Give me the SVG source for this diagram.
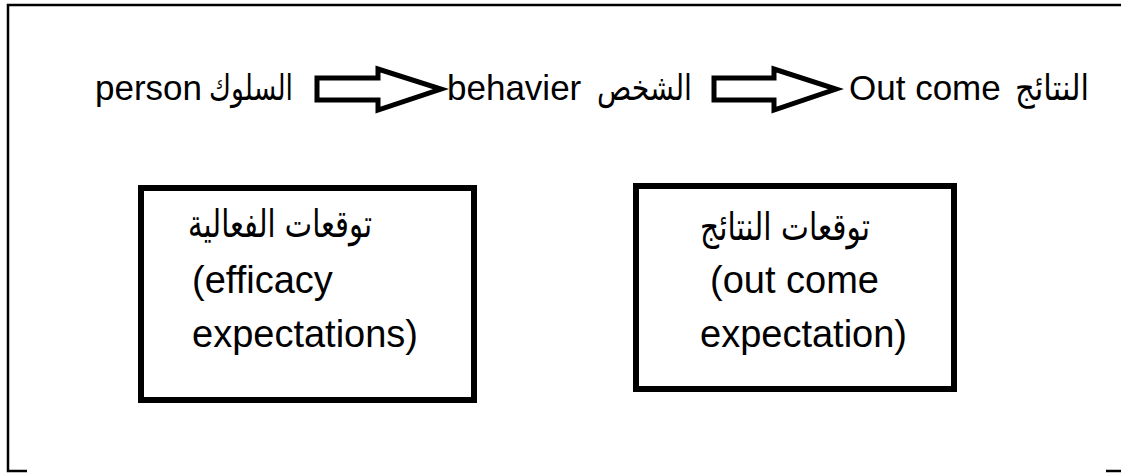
<svg xmlns="http://www.w3.org/2000/svg" width="1121" height="473" viewBox="0 0 1121 473">
  <style>
    .frame { fill: none; stroke: #000; stroke-width: 2.5; }
    .box { fill: #fff; stroke: #000; stroke-width: 6; }
    .arrow { fill: #fff; stroke: #000; stroke-width: 5; stroke-linejoin: miter; }
    .t { font-family: "Liberation Sans", Arial, sans-serif; fill: #000; }
    .ar { font-family: "DejaVu Sans", "Noto Sans", sans-serif; fill: #000; }
    .top { font-size: 35px; }
    .inbox { font-size: 38px; }
  </style>
  <rect width="1121" height="473" fill="#fff"/>
  <g id="frame">
    <path class="frame" d="M1121,5 H8 V471 H27"/>
    <path class="frame" d="M1106,471 H1121"/>
  </g>
  <g id="header">
    <text class="t top" x="95" y="100">person</text>
    <text class="ar top" x="293" y="100" text-anchor="end" font-size="30" textLength="84" lengthAdjust="spacingAndGlyphs">السلوك</text>
    <text class="t top" x="447" y="100">behavier</text>
    <text class="ar top" x="692" y="100" text-anchor="end" font-size="30" textLength="95" lengthAdjust="spacingAndGlyphs">الشخص</text>
    <text class="t top" x="849" y="100">Out come</text>
    <text class="ar top" x="1089" y="100" text-anchor="end" font-size="30" textLength="74" lengthAdjust="spacingAndGlyphs">النتائج</text>
  </g>
  <g id="connectors">
    <path class="arrow" d="M317,78 H378 V69 L441,89 L378,110 V100 H317 Z"/>
    <path class="arrow" d="M714,78 H774 V69 L836,89 L774,110 V100 H714 Z"/>
  </g>
  <g id="efficacy">
    <rect class="box" x="141" y="188" width="333" height="212"/>
    <text class="ar inbox" x="372" y="237" text-anchor="end" font-size="32" textLength="184" lengthAdjust="spacingAndGlyphs">توقعات الفعالية</text>
    <text class="t inbox" x="192" y="293">(efficacy</text>
    <text class="t inbox" x="192" y="347">expectations)</text>
  </g>
  <g id="outcome">
    <rect class="box" x="636" y="186" width="318" height="203"/>
    <text class="ar inbox" x="870" y="240" text-anchor="end" font-size="32" textLength="170" lengthAdjust="spacingAndGlyphs">توقعات النتائج</text>
    <text class="t inbox" x="710" y="293">(out come</text>
    <text class="t inbox" x="700" y="347">expectation)</text>
  </g>
</svg>
